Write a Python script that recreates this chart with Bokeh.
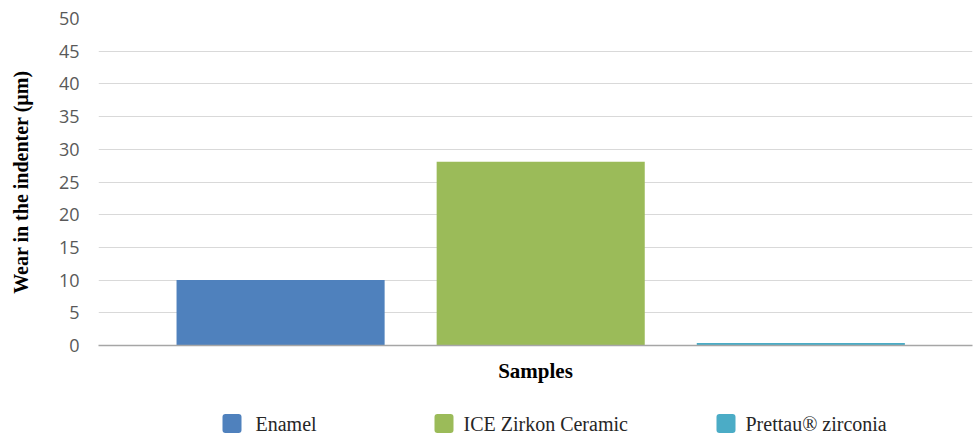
from bokeh.plotting import figure
from bokeh.models import Range1d, FixedTicker
from bokeh.layouts import column
from bokeh.core.properties import value
from bokeh.embed import file_html
from bokeh.resources import INLINE

categories = ["Enamel", "ICE Zirkon Ceramic", "Prettau® zirconia"]
wear = [10.0, 28.1, 0.4]
colors = ["#4F81BD", "#9BBB59", "#4BACC6"]
y_ticks = [0, 5, 10, 15, 20, 25, 30, 35, 40, 45, 50]

W = 973
p = figure(width=W, height=400, output_backend="svg", toolbar_location=None,
           x_range=Range1d(-1.7, 1.66), y_range=Range1d(0, 50),
           min_border_left=98, min_border_right=1, min_border_top=18, min_border_bottom=55)
p.outline_line_color = None
p.background_fill_color = "white"

xs = [i - 1 for i in range(len(categories))]
for x, v, c in zip(xs, wear, colors):
    p.vbar(x=[x], top=[v], bottom=0, width=0.8, fill_color=c, line_color=None)

# y axis
p.yaxis.ticker = FixedTicker(ticks=y_ticks)
p.yaxis.axis_line_color = None
p.yaxis.major_tick_line_color = None
p.yaxis.major_tick_out = 0
p.yaxis.minor_tick_line_color = None
p.yaxis.major_label_text_font = "Open Sans"
p.yaxis.major_label_text_font_size = "18px"
p.yaxis.major_label_text_color = "#595959"
p.yaxis.major_label_standoff = 19
p.yaxis.axis_label = "Wear in the indenter (µm)"
p.yaxis.axis_label_text_font = "Liberation Serif"
p.yaxis.axis_label_text_font_style = "bold"
p.yaxis.axis_label_text_font_size = "20px"
p.yaxis.axis_label_text_color = "black"
p.yaxis.axis_label_standoff = 24

# x axis
p.xaxis.ticker = FixedTicker(ticks=[])
p.xaxis.axis_line_color = "#A6A6A6"
p.xaxis.axis_line_width = 1.5
p.xaxis.major_tick_line_color = None
p.xaxis.major_tick_out = 0
p.xaxis.minor_tick_line_color = None
p.xaxis.axis_label = "Samples"
p.xaxis.axis_label_text_font = "Liberation Serif"
p.xaxis.axis_label_text_font_style = "bold"
p.xaxis.axis_label_text_font_size = "21px"
p.xaxis.axis_label_text_color = "black"
p.xaxis.axis_label_standoff = 13

p.xgrid.grid_line_color = None
p.ygrid.ticker = FixedTicker(ticks=y_ticks)
p.ygrid.grid_line_color = "#D9D9D9"
p.ygrid.grid_line_width = 1

# legend strip (pixel coordinates; frame aligned with chart frame 98..972)
LH = 34
leg = figure(width=W, height=LH, output_backend="svg", toolbar_location=None,
             x_range=Range1d(98, 972), y_range=Range1d(0, LH),
             x_axis_location=None, y_axis_location=None,
             min_border_left=98, min_border_right=1, min_border_top=0, min_border_bottom=0)
leg.outline_line_color = None
leg.xgrid.visible = False
leg.ygrid.visible = False

sq_left = [222, 434, 716]
txt_left = [255, 463, 745]
yc = 11
for i, name in enumerate(categories):
    leg.quad(left=[sq_left[i]], right=[sq_left[i] + 19], bottom=[yc - 9.5], top=[yc + 9.5],
             fill_color=colors[i], line_color=None, border_radius=3)
    leg.text(x=[txt_left[i]], y=[yc], text=[name], text_font=value("Liberation Serif"),
             text_font_size="20px", text_baseline="middle", text_align="left",
             text_color="#262626")

layout = column(p, leg, spacing=0)
open("out.html", "w").write(file_html(layout, INLINE))
